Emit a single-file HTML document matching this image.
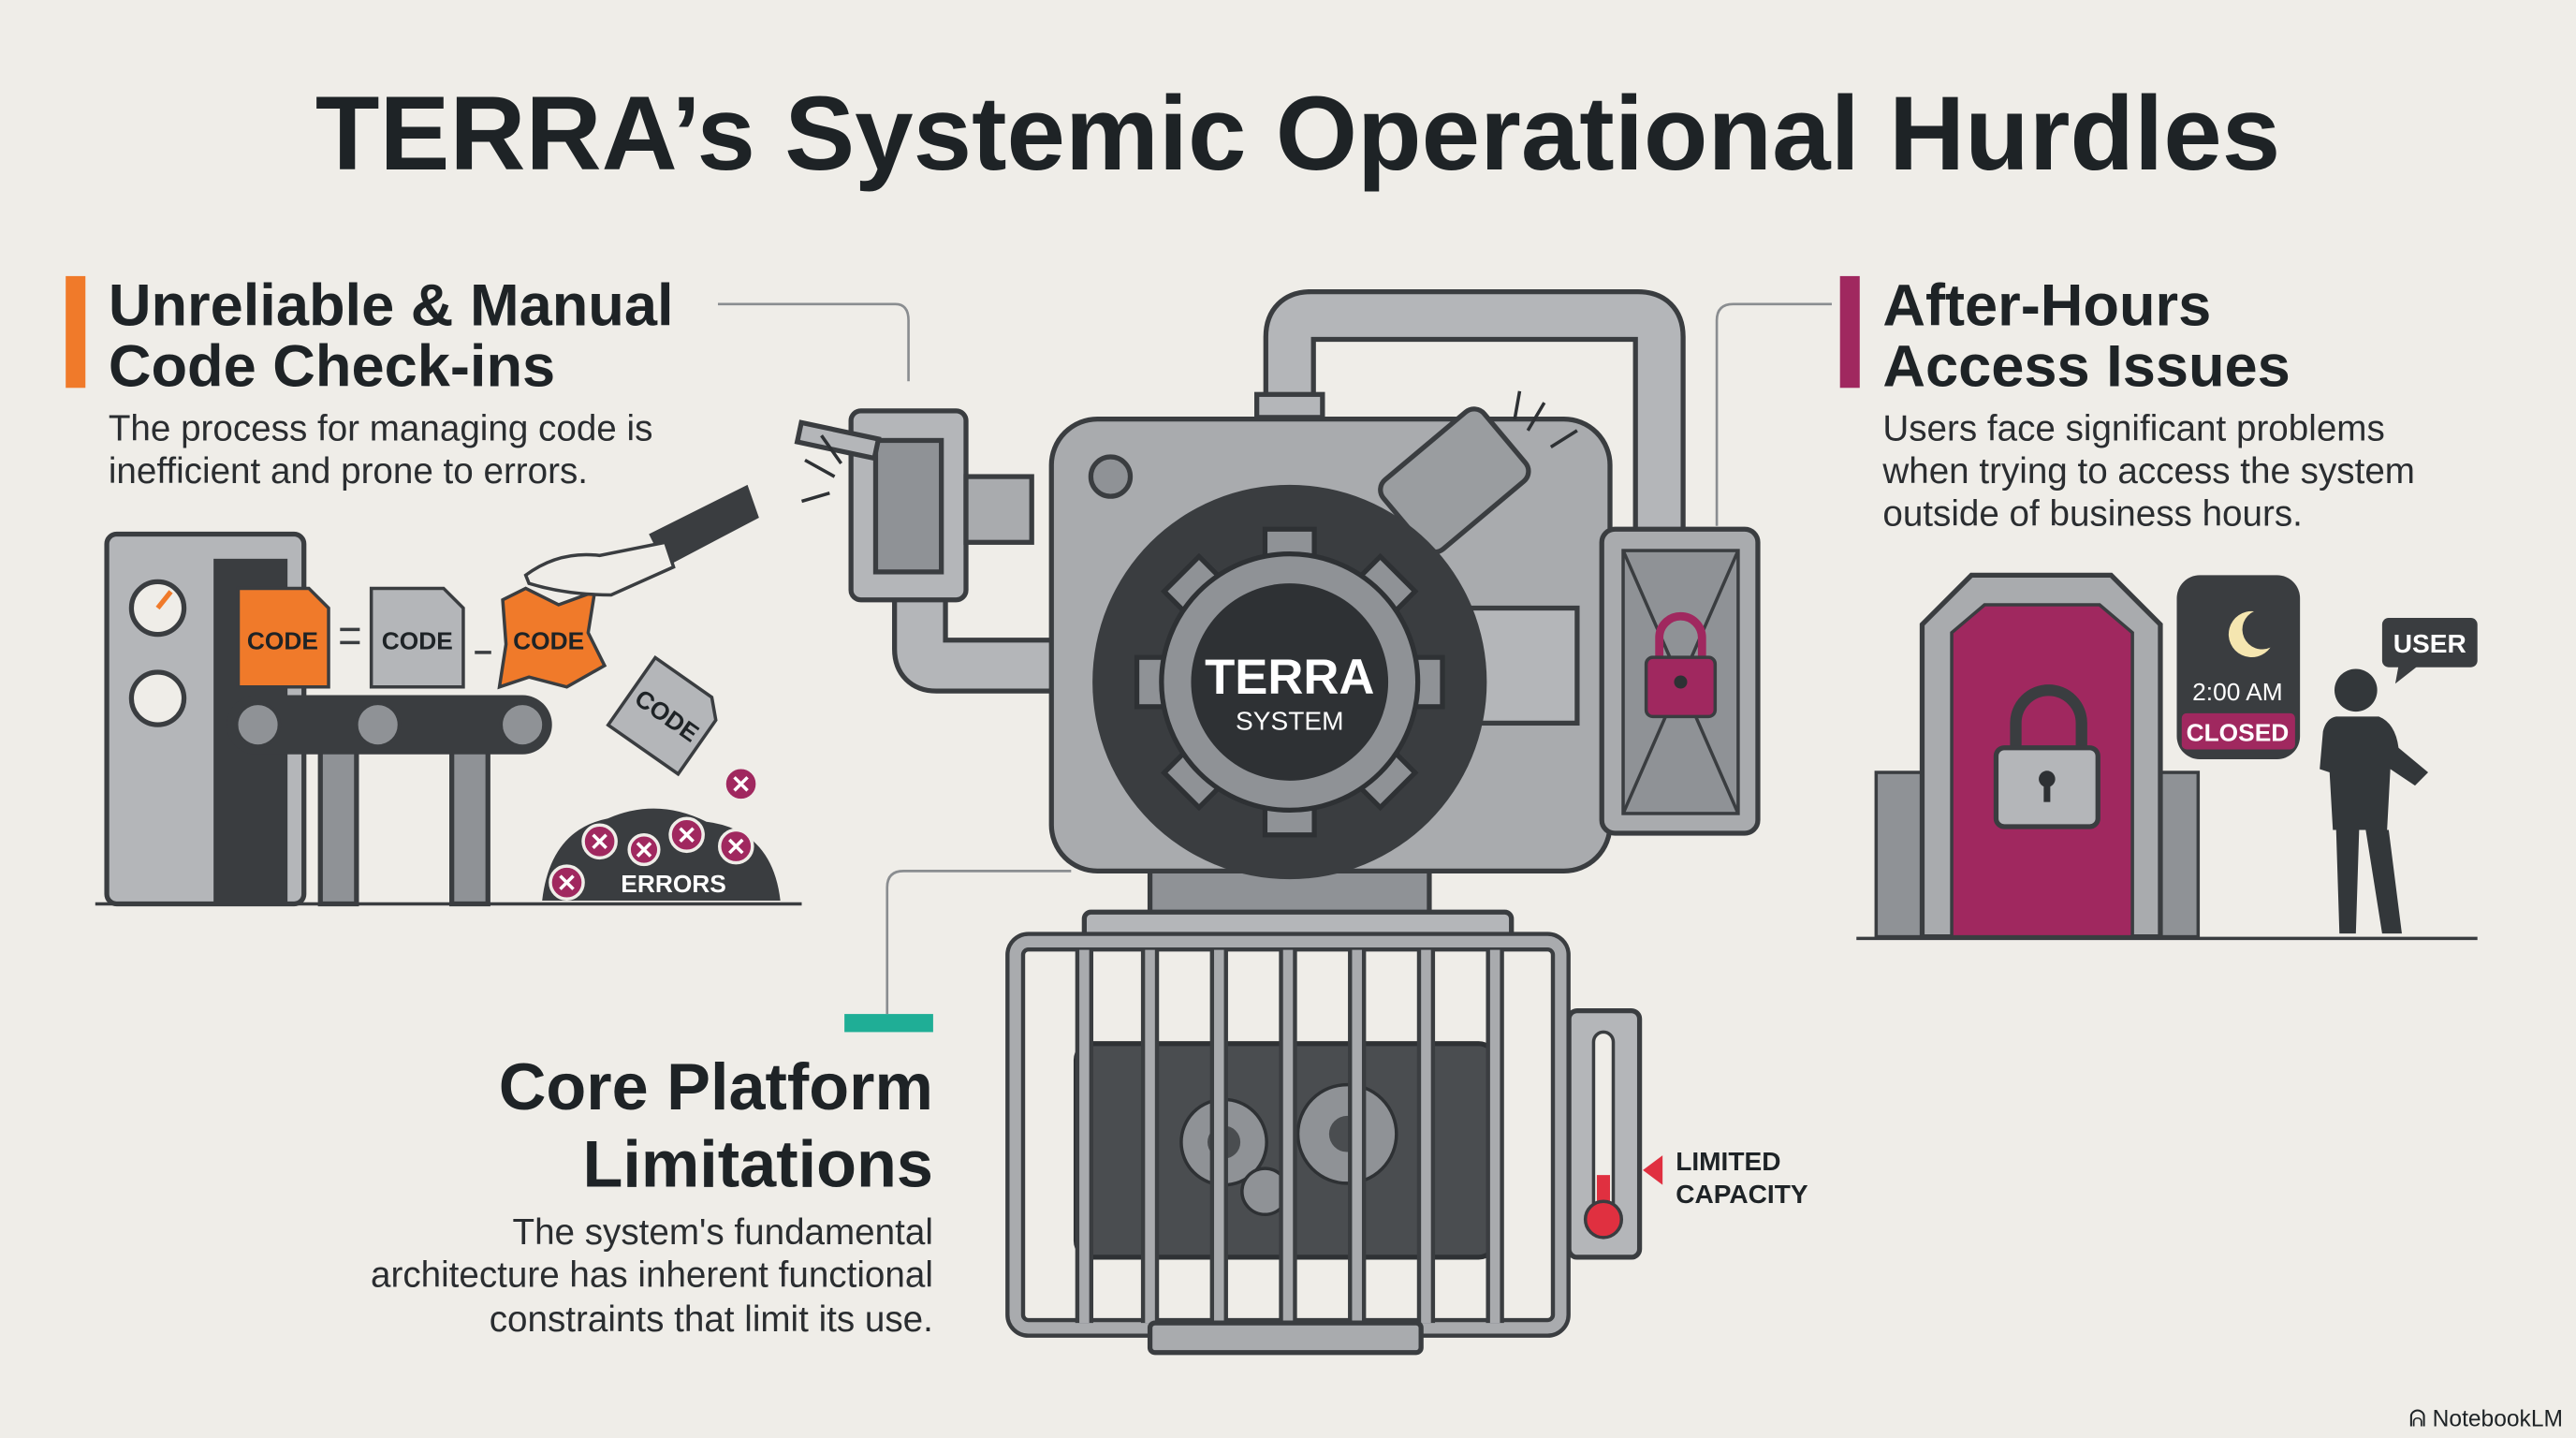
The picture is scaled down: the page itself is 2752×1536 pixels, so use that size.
<!DOCTYPE html>
<html><head><meta charset="utf-8"><style>
html,body{margin:0;padding:0;background:#efede8;}
svg{display:block;}
text{font-family:"Liberation Sans",sans-serif;}
</style></head><body>
<svg width="2752" height="1536" viewBox="0 0 1568 875" preserveAspectRatio="none" xmlns="http://www.w3.org/2000/svg">
<rect width="1568" height="875" fill="#efede8"/>
<text x="790" y="103" text-anchor="middle" font-size="64" font-weight="bold" fill="#1e2326">TERRA’s Systemic Operational Hurdles</text>

<!-- Left heading -->
<rect x="40" y="168" width="12" height="68" fill="#f07a2a"/>
<text x="66" y="198" font-size="36" font-weight="bold" fill="#1e2326">Unreliable &amp; Manual</text>
<text x="66" y="235" font-size="36" font-weight="bold" fill="#1e2326">Code Check-ins</text>
<text x="66" y="268" font-size="22" fill="#2a2d30">The process for managing code is</text>
<text x="66" y="294" font-size="22" fill="#2a2d30">inefficient and prone to errors.</text>
<path d="M437 185 H545 Q553 185 553 195 V232" stroke="#8a8d90" stroke-width="1.5" fill="none"/>

<!-- Right heading -->
<rect x="1120" y="168" width="12" height="68" fill="#a0285f"/>
<text x="1146" y="198" font-size="36" font-weight="bold" fill="#1e2326">After-Hours</text>
<text x="1146" y="235" font-size="36" font-weight="bold" fill="#1e2326">Access Issues</text>
<text x="1146" y="268" font-size="22" fill="#2a2d30">Users face significant problems</text>
<text x="1146" y="294" font-size="22" fill="#2a2d30">when trying to access the system</text>
<text x="1146" y="320" font-size="22" fill="#2a2d30">outside of business hours.</text>
<path d="M1115 185 H1055 Q1045 185 1045 195 V320" stroke="#8a8d90" stroke-width="1.5" fill="none"/>

<!-- Bottom heading -->
<rect x="514" y="617" width="54" height="11" fill="#1fae96"/>
<path d="M540 617 V540 Q540 530 550 530 H652" stroke="#8a8d90" stroke-width="1.5" fill="none"/>
<text x="568" y="675" text-anchor="end" font-size="40" font-weight="bold" fill="#1e2326">Core Platform</text>
<text x="568" y="722" text-anchor="end" font-size="40" font-weight="bold" fill="#1e2326">Limitations</text>
<text x="568" y="757" text-anchor="end" font-size="22" fill="#2a2d30">The system's fundamental</text>
<text x="568" y="783" text-anchor="end" font-size="22" fill="#2a2d30">architecture has inherent functional</text>
<text x="568" y="810" text-anchor="end" font-size="22" fill="#2a2d30">constraints that limit its use.</text>

<!-- Central machine -->
<g stroke="#3a3d40" stroke-width="3">
<path d="M785 250 V205 Q785 192 798 192 H997 Q1010 192 1010 205 V325" stroke="#3a3d40" stroke-width="32" fill="none"/>
<path d="M785 250 V205 Q785 192 798 192 H997 Q1010 192 1010 205 V325" stroke="#b4b6b9" stroke-width="26" fill="none"/>
<rect x="765" y="240" width="40" height="14" fill="#b4b6b9"/>
<path d="M560 365 V395 Q560 405 570 405 H650" stroke="#3a3d40" stroke-width="34" fill="none"/>
<path d="M560 365 V395 Q560 405 570 405 H650" stroke="#b4b6b9" stroke-width="28" fill="none"/>
<rect x="700" y="520" width="170" height="50" fill="#8f9296"/>
<rect x="660" y="555" width="260" height="22" rx="4" fill="#b4b6b9"/>
<rect x="640" y="255" width="340" height="275" rx="28" fill="#a9abae"/>
<rect x="880" y="370" width="80" height="70" fill="#b4b6b9"/>
<rect x="845" y="265" width="80" height="55" rx="8" fill="#9a9da0" transform="rotate(-40 885 292)"/>
<circle cx="676" cy="290" r="12" fill="#8f9296"/>
<rect x="518" y="250" width="70" height="115" rx="6" fill="#b4b6b9"/>
<rect x="533" y="268" width="40" height="80" fill="#8f9296"/>
<rect x="486" y="262" width="48" height="12" fill="#b4b6b9" transform="rotate(12 510 268)"/>
<rect x="588" y="290" width="40" height="40" fill="#a9abae"/>
</g>
<circle cx="785" cy="415" r="120" fill="#3a3d40"/>
<g fill="#8f9296" stroke="#2e3134" stroke-width="3">
<g id="teeth">
<rect x="770" y="322" width="30" height="22"/><rect x="770" y="486" width="30" height="22"/>
<rect x="692" y="400" width="22" height="30"/><rect x="856" y="400" width="22" height="30"/>
</g>
<use href="#teeth" transform="rotate(45 785 415)"/>
<circle cx="785" cy="415" r="78"/>
</g>
<circle cx="785" cy="415" r="60" fill="#2e3134"/>
<text x="785" y="422" text-anchor="middle" font-size="30" font-weight="bold" fill="#fff">TERRA</text>
<text x="785" y="444" text-anchor="middle" font-size="16" fill="#fff">SYSTEM</text>
<g stroke="#2e3134" stroke-width="2" fill="none">
<path d="M930 262 L940 245 M944 272 L960 262 M922 255 L925 238"/>
<path d="M508 290 L490 280 M505 300 L488 305 M512 282 L500 265"/>
</g>

<!-- Lock panel -->
<rect x="975" y="322" width="95" height="185" rx="8" fill="#a9abae" stroke="#3a3d40" stroke-width="3"/>
<rect x="988" y="335" width="70" height="160" fill="#8f9296" stroke="#3a3d40" stroke-width="2"/>
<path d="M988 335 L1058 495 M1058 335 L988 495" stroke="#3a3d40" stroke-width="2"/>
<path d="M1010 400 V388 a13 13 0 0 1 26 0 V400" stroke="#a0285f" stroke-width="5" fill="none"/>
<rect x="1002" y="400" width="42" height="36" rx="4" fill="#a0285f" stroke="#3a3d40" stroke-width="2"/>
<circle cx="1023" cy="415" r="4" fill="#2e3134"/>

<!-- Cage -->
<rect x="655" y="635" width="255" height="130" rx="10" fill="#4a4d50" stroke="#2e3134" stroke-width="3"/>
<g fill="#8f9296" stroke="#2e3134" stroke-width="2">
<circle cx="745" cy="695" r="26"/><circle cx="820" cy="690" r="30"/><circle cx="770" cy="725" r="14"/>
</g>
<circle cx="745" cy="695" r="10" fill="#4a4d50"/><circle cx="820" cy="690" r="11" fill="#4a4d50"/>
<rect x="618" y="573" width="332" height="235" rx="8" fill="none" stroke="#3a3d40" stroke-width="12"/>
<rect x="618" y="573" width="332" height="235" rx="8" fill="none" stroke="#a9abae" stroke-width="7"/>
<g stroke="#3a3d40" stroke-width="11">
<path d="M660 578 V805 M700 578 V805 M742 578 V805 M784 578 V805 M826 578 V805 M868 578 V805 M910 578 V805"/>
</g>
<g stroke="#a9abae" stroke-width="6">
<path d="M660 578 V805 M700 578 V805 M742 578 V805 M784 578 V805 M826 578 V805 M868 578 V805 M910 578 V805"/>
</g>
<rect x="700" y="805" width="165" height="18" rx="3" fill="#a9abae" stroke="#3a3d40" stroke-width="3"/>
<!-- Thermometer -->
<rect x="955" y="615" width="43" height="150" rx="5" fill="#b4b6b9" stroke="#3a3d40" stroke-width="3"/>
<rect x="970" y="628" width="12" height="110" rx="6" fill="#efede8" stroke="#3a3d40" stroke-width="2"/>
<rect x="972" y="715" width="8" height="25" fill="#e03040"/>
<circle cx="976" cy="742" r="11" fill="#e03040" stroke="#3a3d40" stroke-width="2"/>
<path d="M1012 703 L1000 712 L1012 721 Z" fill="#e03040"/>
<text x="1020" y="712" font-size="16" font-weight="bold" fill="#1e2326">LIMITED</text>
<text x="1020" y="732" font-size="16" font-weight="bold" fill="#1e2326">CAPACITY</text>

<!-- Left conveyor scene -->
<line x1="58" y1="550" x2="488" y2="550" stroke="#3a3d40" stroke-width="2"/>
<rect x="65" y="325" width="120" height="225" rx="6" fill="#b4b6b9" stroke="#3a3d40" stroke-width="3"/>
<rect x="130" y="340" width="45" height="210" fill="#3a3d40"/>
<circle cx="96" cy="370" r="16" fill="#efede8" stroke="#3a3d40" stroke-width="3"/>
<path d="M96 370 L104 360" stroke="#f07a2a" stroke-width="3"/>
<circle cx="96" cy="425" r="16" fill="#efede8" stroke="#3a3d40" stroke-width="3"/>
<g fill="#8f9296" stroke="#3a3d40" stroke-width="3">
<rect x="195" y="455" width="22" height="95"/><rect x="275" y="455" width="22" height="95"/>
</g>
<rect x="138" y="423" width="198" height="36" rx="18" fill="#3a3d40"/>
<g fill="#8f9296" stroke="#3a3d40" stroke-width="2">
<circle cx="157" cy="441" r="13"/><circle cx="230" cy="441" r="13"/><circle cx="318" cy="441" r="13"/>
</g>
<path d="M145 358 H188 L200 370 V418 H145 Z" fill="#f07a2a" stroke="#3a3d40" stroke-width="2"/>
<text x="172" y="395" text-anchor="middle" font-size="15" font-weight="bold" fill="#1e2326">CODE</text>
<path d="M226 358 H270 L282 370 V418 H226 Z" fill="#b4b6b9" stroke="#3a3d40" stroke-width="2"/>
<text x="254" y="395" text-anchor="middle" font-size="15" font-weight="bold" fill="#1e2326">CODE</text>
<path d="M306 365 L320 358 L340 368 L362 360 L358 385 L368 405 L345 418 L322 412 L304 418 L308 392 Z" fill="#f07a2a" stroke="#3a3d40" stroke-width="2"/>
<text x="334" y="395" text-anchor="middle" font-size="15" font-weight="bold" fill="#1e2326">CODE</text>
<path d="M207 383 H219 M207 391 H219 M289 397 H299" stroke="#3a3d40" stroke-width="2"/>
<g transform="rotate(35 405 435)">
<path d="M380 410 H422 L432 420 V460 H380 Z" fill="#b4b6b9" stroke="#3a3d40" stroke-width="2"/>
<text x="406" y="440" text-anchor="middle" font-size="15" font-weight="bold" fill="#1e2326">CODE</text>
</g>
<path d="M395 325 L455 295 L462 315 L405 345 Z" fill="#3a3d40"/>
<path d="M320 350 Q340 335 365 338 L405 330 L410 345 L372 362 Q345 362 322 355 Z" fill="#efede8" stroke="#3a3d40" stroke-width="2"/>
<path d="M330 548 Q335 505 370 498 Q400 485 430 500 Q470 505 475 548 Z" fill="#3a3d40"/>
<g fill="#a0285f" stroke="#efede8" stroke-width="2">
<circle cx="345" cy="537" r="10"/><circle cx="365" cy="512" r="10"/><circle cx="392" cy="517" r="9"/><circle cx="418" cy="508" r="10"/><circle cx="448" cy="515" r="10"/><circle cx="451" cy="477" r="10"/>
</g>
<g stroke="#fff" stroke-width="2">
<path d="M341 533 l8 8 m0 -8 l-8 8 M361 508 l8 8 m0 -8 l-8 8 M388 513 l8 8 m0 -8 l-8 8 M414 504 l8 8 m0 -8 l-8 8 M444 511 l8 8 m0 -8 l-8 8 M447 473 l8 8 m0 -8 l-8 8"/>
</g>
<text x="410" y="543" text-anchor="middle" font-size="15" font-weight="bold" fill="#fff">ERRORS</text>

<!-- Right door scene -->
<line x1="1130" y1="571" x2="1508" y2="571" stroke="#3a3d40" stroke-width="2"/>
<rect x="1142" y="470" width="30" height="100" fill="#8f9296" stroke="#3a3d40" stroke-width="2"/>
<rect x="1308" y="470" width="30" height="100" fill="#8f9296" stroke="#3a3d40" stroke-width="2"/>
<path d="M1170 570 V380 L1200 350 H1285 L1315 380 V570 Z" fill="#a9abae" stroke="#3a3d40" stroke-width="3"/>
<path d="M1188 570 V385 L1208 368 H1278 L1298 385 V570 Z" fill="#a0285f" stroke="#3a3d40" stroke-width="2"/>
<path d="M1227 455 V440 a20 20 0 0 1 40 0 V455" stroke="#3a3d40" stroke-width="7" fill="none"/>
<rect x="1215" y="455" width="62" height="48" rx="5" fill="#b4b6b9" stroke="#3a3d40" stroke-width="3"/>
<circle cx="1246" cy="474" r="5" fill="#2e3134"/><rect x="1244" y="474" width="4" height="14" fill="#2e3134"/>
<rect x="1325" y="350" width="75" height="112" rx="14" fill="#3a3d40"/>
<path d="M1372 372 a14 14 0 1 0 10 22 a11 11 0 1 1 -10 -22 Z" fill="#f5e6b0"/>
<text x="1362" y="426" text-anchor="middle" font-size="15" fill="#fff">2:00 AM</text>
<rect x="1328" y="434" width="69" height="22" rx="3" fill="#a0285f"/>
<text x="1362" y="451" text-anchor="middle" font-size="15" font-weight="bold" fill="#fff">CLOSED</text>
<rect x="1450" y="376" width="58" height="30" rx="4" fill="#3a3d40"/>
<path d="M1460 405 L1458 416 L1472 405 Z" fill="#3a3d40"/>
<text x="1479" y="397" text-anchor="middle" font-size="16" font-weight="bold" fill="#fff">USER</text>
<g fill="#33373a">
<circle cx="1434" cy="420" r="13"/>
<path d="M1422 436 H1448 Q1458 440 1460 455 L1478 470 L1470 478 L1455 468 L1453 505 H1420 L1418 470 L1412 468 L1414 445 Q1416 437 1422 436 Z"/>
<path d="M1422 505 H1436 L1434 568 H1424 Z M1440 505 H1454 L1462 568 H1450 Z"/>
</g>

<text x="1560" y="868" text-anchor="end" font-size="14" fill="#1e2326">ᕱ NotebookLM</text>
</svg>
</body></html>
